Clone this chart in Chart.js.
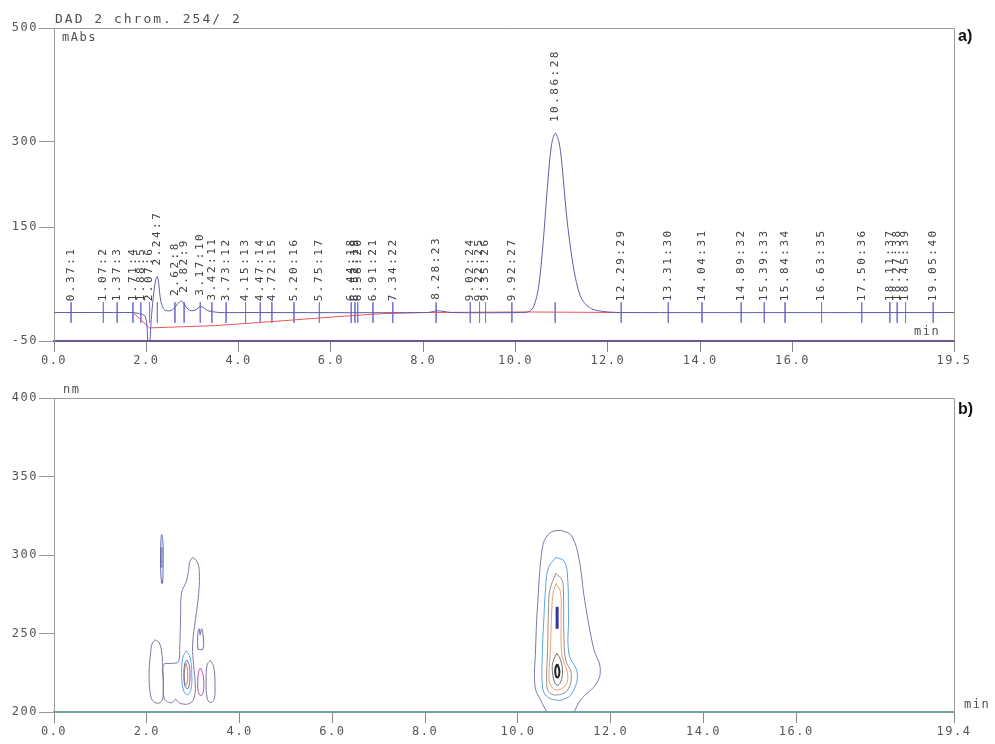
<!DOCTYPE html>
<html lang="en">
<head>
    <meta charset="UTF-8">
    <title>DAD chromatogram and contour plot</title>
    <script src="https://cdn.jsdelivr.net/npm/chart.js"></script>
    <style>
        body { margin: 0; background: #fff; }
        canvas { position: absolute; left: 0; }
        #chromCanvas { top: 0; }
        #contourCanvas { top: 372px; }
    </style>
</head>
<body>
    <canvas id="chromCanvas" width="995" height="372"></canvas>
    <canvas id="contourCanvas" width="995" height="372"></canvas>

    <script>
        // ---- a) chromatogram data (min, mAbs) ----
        const sigTime = [0, 1.70, 1.80, 1.90, 1.97, 2.01, 2.04, 2.07, 2.10, 2.13, 2.17, 2.21, 2.24, 2.27, 2.31,
            2.37, 2.45, 2.55, 2.64, 2.71, 2.77, 2.83, 2.90, 2.98, 3.08, 3.16, 3.23, 3.30, 3.38, 3.48, 3.60, 4.00,
            8.10, 8.22, 8.32, 8.45, 8.60, 10.10, 10.30, 10.40, 10.50, 10.60, 10.70, 10.78, 10.86, 10.94, 11.00,
            11.10, 11.20, 11.30, 11.40, 11.50, 11.60, 11.70, 11.80, 12.00, 12.30, 19.50];
        const sigAbs = [0, 0, -1, -3, -6, -20, -58, -58, -20, 10, 40, 60, 63, 50, 22,
            7, 3, 4, 11, 18, 20, 14, 6, 3, 5, 10, 9, 5, 2, 1, 0, 0,
            0, 2, 3, 2, 0, 0, 2, 12, 45, 125, 230, 295, 315, 300, 265,
            175, 108, 60, 30, 16, 9, 5, 3, 1, 0, 0];

        // integration baseline (red)
        const baseTime = [1.71, 2.07, 3.50, 4.70, 6.00, 7.10, 8.00, 10.30, 12.29];
        const baseAbs = [0, -27, -23, -16, -8, -2, 0, 1, 0];

        // peak retention times (label = time:number)
        const peakTimes = [0.37, 1.07, 1.37, 1.71, 1.88, 2.07, 2.24, 2.62, 2.82, 3.17, 3.42, 3.73, 4.15, 4.47,
            4.72, 5.20, 5.75, 6.44, 6.52, 6.58, 6.91, 7.34, 8.28, 9.02, 9.22, 9.35, 9.92, 10.86, 12.29, 13.31,
            14.04, 14.89, 15.39, 15.84, 16.63, 17.50, 18.11, 18.27, 18.45, 19.05];

        const chromXTicks = [0, 2, 4, 6, 8, 10, 12, 14, 16, 19.5];
        const chromYTicks = [-50, 150, 300, 500];

        // ---- b) contour data (min, nm) ----
        const streak = [[2.32, 282], [2.30, 290], [2.30, 305], [2.32, 313], [2.35, 307], [2.35, 290], [2.34, 282], [2.32, 282]];
        const streakCore = [[2.32, 292], [2.32, 305]];
        const leftLobe = [[2.18, 246], [2.27, 244], [2.33, 236], [2.35, 222], [2.35, 210], [2.29, 206], [2.15, 206.5],
            [2.08, 211], [2.05, 224], [2.08, 237], [2.12, 244], [2.18, 246]];
        const mainFinger = [[2.99, 298.5], [3.08, 296], [3.13, 290], [3.12, 276], [3.05, 259], [2.99, 244], [3.00, 233],
            [3.04, 220], [3.03, 210], [2.93, 205.5], [2.72, 205.5], [2.62, 208], [2.55, 206], [2.45, 206.5], [2.37, 209],
            [2.36, 220], [2.36, 230], [2.55, 231], [2.68, 232], [2.71, 242], [2.73, 262], [2.75, 276], [2.85, 283],
            [2.90, 290], [2.93, 296], [2.99, 298.5]];
        const tinyBump = [[3.10, 240], [3.10, 250], [3.13, 253], [3.15, 249], [3.18, 253], [3.21, 250], [3.21, 240], [3.10, 240]];
        const rightLobe = [[3.37, 233], [3.44, 229], [3.47, 218], [3.45, 208], [3.37, 206], [3.30, 209], [3.28, 220], [3.30, 230], [3.37, 233]];
        const magentaLobe = [[3.16, 228], [3.21, 224], [3.23, 218], [3.21, 212], [3.16, 210.5], [3.11, 213], [3.10, 220], [3.12, 226], [3.16, 228]];
        const smallBlue = [[2.85, 239], [2.93, 235], [2.97, 225], [2.95, 214], [2.87, 211], [2.79, 214], [2.75, 225], [2.78, 235], [2.85, 239]];
        const smallPurple = [[2.87, 233], [2.92, 229], [2.93, 221], [2.89, 215], [2.83, 216], [2.80, 223], [2.82, 231], [2.87, 233]];
        const smallOlive = [[2.85, 231], [2.88, 226], [2.87, 219], [2.84, 217], [2.81, 221], [2.82, 228], [2.85, 231]];

        const bigOuter = [[10.62, 200], [10.49, 207.6], [10.37, 216], [10.38, 239.5], [10.43, 271], [10.53, 305], [10.65, 313],
            [10.82, 315.5], [11.00, 315], [11.17, 311.7], [11.32, 297], [11.44, 271], [11.64, 239.5], [11.77, 229],
            [11.71, 219], [11.35, 207.6], [11.21, 200]];
        const bigBlue = [[10.82, 298.5], [11.00, 296], [11.07, 286], [11.09, 260], [11.10, 237], [11.28, 224.6], [11.17, 212],
            [10.98, 208], [10.82, 207.6], [10.62, 210], [10.53, 216], [10.53, 240], [10.56, 260], [10.60, 280], [10.66, 292], [10.82, 298.5]];
        const bigGrey = [[10.82, 288.3], [10.95, 284], [10.98, 277.7], [10.99, 250], [11.03, 233], [11.15, 224.6], [11.07, 214],
            [10.82, 210.8], [10.66, 213], [10.62, 219.3], [10.64, 240], [10.66, 265], [10.69, 278], [10.82, 288.3]];
        const bigOrange = [[10.82, 281.9], [10.92, 276], [10.93, 260], [10.95, 236], [11.07, 224.6], [11.03, 217.2], [10.82, 214],
            [10.69, 218], [10.67, 223], [10.70, 240], [10.73, 265], [10.76, 276], [10.82, 281.9]];
        const bigInner = [[10.84, 237.4], [10.92, 233], [10.96, 226], [10.92, 219], [10.84, 217], [10.77, 221], [10.74, 229], [10.78, 234], [10.84, 237.4]];
        const bigCore = [[10.85, 230.5], [10.89, 227], [10.89, 224], [10.85, 222], [10.81, 224], [10.81, 228], [10.85, 230.5]];
        const bigStreak = [[10.845, 253], [10.845, 267]];

        const contXTicks = [0, 2, 4, 6, 8, 10, 12, 14, 16, 19.4];
        const contYTicks = [200, 250, 300, 350, 400];

        const MONO = '"DejaVu Sans Mono", "Liberation Mono", monospace';

        function signalAt(t) {
            for (let i = 1; i < sigTime.length; i++) {
                if (t <= sigTime[i]) {
                    const f = (t - sigTime[i - 1]) / (sigTime[i] - sigTime[i - 1]);
                    return sigAbs[i - 1] + f * (sigAbs[i] - sigAbs[i - 1]);
                }
            }
            return 0;
        }

        const toPts = arr => arr.map(p => ({ x: p[0], y: p[1] }));

        // spacing like the old instrument printout
        const spacingPlugin = {
            id: 'spacing',
            beforeDraw(chart) { chart.ctx.letterSpacing = '1.5px'; }
        };

        const frameAndText = {
            id: 'frameAndText',
            afterDraw(chart, args, opts) {
                const { ctx, chartArea: a } = chart;
                ctx.save();
                ctx.strokeStyle = '#9a9a9a';
                ctx.lineWidth = 1;
                ctx.beginPath();
                ctx.moveTo(a.left, a.top + 0.5);
                ctx.lineTo(a.right + 0.5, a.top + 0.5);
                ctx.lineTo(a.right + 0.5, a.bottom);
                ctx.stroke();
                ctx.textBaseline = 'alphabetic';
                opts.texts.forEach(t => {
                    ctx.font = t.font || ('12px ' + MONO);
                    ctx.fillStyle = t.color || '#505050';
                    ctx.letterSpacing = t.spacing || '1.5px';
                    ctx.fillText(t.text, t.x, t.y);
                });
                ctx.restore();
            }
        };

        const peakLabels = {
            id: 'peakLabels',
            afterDatasetsDraw(chart) {
                const { ctx, scales: { x, y } } = chart;
                ctx.save();
                ctx.font = '11px ' + MONO;
                ctx.letterSpacing = '2.5px';
                ctx.fillStyle = '#404040';
                ctx.textAlign = 'left';
                ctx.textBaseline = 'middle';
                peakTimes.forEach((t, i) => {
                    const px = x.getPixelForValue(t);
                    const py = y.getPixelForValue(Math.max(0, signalAt(t)) + 18) - 1;
                    ctx.save();
                    ctx.translate(px, py);
                    ctx.rotate(-Math.PI / 2);
                    ctx.fillText(t.toFixed(2) + ':' + (i + 1), 0, 0);
                    ctx.restore();
                });
                ctx.restore();
            }
        };

        function axisOptions(xTicks, yTicks, xMin, xMax, yMin, yMax, xAxisColor, xHeight) {
            return {
                x: {
                    type: 'linear', min: xMin, max: xMax,
                    afterBuildTicks: s => { s.ticks = xTicks.map(v => ({ value: v })); },
                    afterFit: s => { s.height = xHeight; },
                    ticks: { autoSkip: false, maxRotation: 0, padding: 2, color: '#555', font: { family: MONO, size: 12 },
                        callback: v => Number(v).toFixed(1) },
                    grid: { drawOnChartArea: false, tickLength: 11, color: '#888' },
                    border: { color: xAxisColor, width: 2 }
                },
                y: {
                    min: yMin, max: yMax,
                    afterBuildTicks: s => { s.ticks = yTicks.map(v => ({ value: v })); },
                    afterFit: s => { s.width = 54; },
                    ticks: { autoSkip: false, padding: 1, color: '#555', font: { family: MONO, size: 12 } },
                    grid: { drawOnChartArea: false, tickLength: 15, color: '#999' },
                    border: { color: '#999' }
                }
            };
        }

        // ---- a) chromatogram ----
        const peakTicks = peakTimes.flatMap(t => [{ x: t, y: 18 }, { x: t, y: -18 }, { x: t, y: null }]);

        new Chart(document.getElementById('chromCanvas'), {
            type: 'scatter',
            data: {
                datasets: [{
                    data: sigTime.map((t, i) => ({ x: t, y: sigAbs[i] })),
                    showLine: true, borderColor: '#5d5da8', borderWidth: 1, pointRadius: 0, tension: 0.3
                }, {
                    data: baseTime.map((t, i) => ({ x: t, y: baseAbs[i] })),
                    showLine: true, borderColor: '#e8555a', borderWidth: 1, pointRadius: 0
                }, {
                    data: peakTicks,
                    showLine: true, spanGaps: false, borderColor: '#7a7ad8', borderWidth: 1, pointRadius: 0
                }]
            },
            options: {
                responsive: false, animation: false,
                layout: { padding: { left: 0, top: 28, right: 41, bottom: 0 } },
                plugins: {
                    legend: { display: false }, tooltip: { enabled: false },
                    frameAndText: {
                        texts: [
                            { text: 'DAD 2 chrom. 254/ 2', x: 55, y: 23, font: '13px ' + MONO, spacing: '2px' },
                            { text: 'mAbs', x: 62, y: 41 },
                            { text: 'min', x: 914, y: 335 },
                            { text: 'a)', x: 958, y: 41, font: 'bold 16px "Liberation Sans", Arial, sans-serif', color: '#111', spacing: '0px' }
                        ]
                    }
                },
                scales: axisOptions(chromXTicks, chromYTicks, 0, 19.5, -50, 500, '#6c5496', 31)
            },
            plugins: [spacingPlugin, peakLabels, frameAndText]
        });

        // ---- b) contour plot ----
        function contour(points, color, width) {
            return { data: toPts(points), showLine: true, borderColor: color, borderWidth: width || 1, pointRadius: 0, tension: 0.4 };
        }

        new Chart(document.getElementById('contourCanvas'), {
            type: 'scatter',
            data: {
                datasets: [
                    contour(streak, '#6262c0'),
                    contour(streakCore, '#9a9a9a', 2),
                    contour(leftLobe, '#77779f'),
                    contour(mainFinger, '#7a78a6'),
                    contour(tinyBump, '#6d6da8'),
                    contour(rightLobe, '#77779f'),
                    contour(magentaLobe, '#c24a92'),
                    contour(smallBlue, '#5aa8e8'),
                    contour(smallPurple, '#7462b0'),
                    contour(smallOlive, '#b09040'),
                    contour(bigOuter, '#7878a8'),
                    contour(bigBlue, '#5aa2e2'),
                    contour(bigGrey, '#9a8c82'),
                    contour(bigOrange, '#e6a070'),
                    contour(bigInner, '#6e6e6e'),
                    contour(bigCore, '#202020', 2),
                    contour(bigStreak, '#3434a6', 3)
                ]
            },
            options: {
                responsive: false, animation: false,
                layout: { padding: { left: 0, top: 26, right: 41, bottom: 0 } },
                plugins: {
                    legend: { display: false }, tooltip: { enabled: false },
                    frameAndText: {
                        texts: [
                            { text: 'nm', x: 63, y: 21 },
                            { text: 'min', x: 964, y: 336 },
                            { text: 'b)', x: 958, y: 42, font: 'bold 16px "Liberation Sans", Arial, sans-serif', color: '#111', spacing: '0px' }
                        ]
                    }
                },
                scales: axisOptions(contXTicks, contYTicks, 0, 19.4, 200, 400, '#72a2a2', 32)
            },
            plugins: [spacingPlugin, frameAndText]
        });
    </script>
</body>
</html>
